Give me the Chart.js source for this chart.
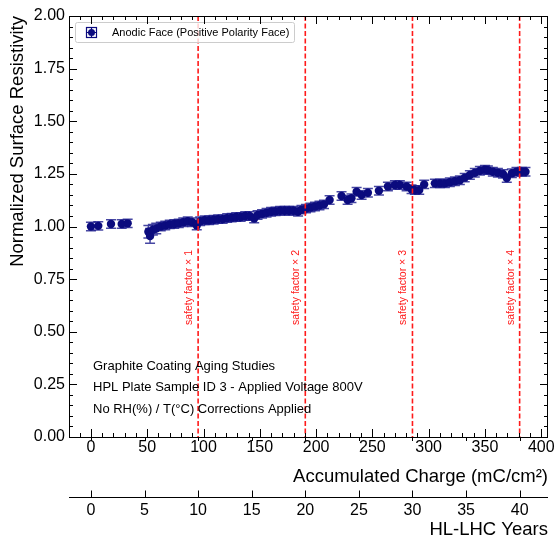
<!DOCTYPE html>
<html>
<head>
<meta charset="utf-8">
<script src="https://cdn.jsdelivr.net/npm/chart.js@4/dist/chart.umd.min.js"></script>
<style>
  html, body { margin: 0; padding: 0; background: #fff; }
</style>
</head>
<body>
<canvas id="cv" width="559" height="541"></canvas>
<script>
// ---- data ----
const charge = [
  0, 6.5, 17.8, 27.3, 32.6,
  51, 52.5, 55, 58, 62, 66, 70, 74, 78, 82, 86, 90, 94, 97,
  101, 105, 109, 113, 117, 121, 125, 129, 133, 137, 141, 145, 148,
  152, 156, 160, 164, 168, 172, 176, 180, 184, 187, 191, 195, 199,
  203, 207, 212, 222.6, 228, 231.4, 236, 240.4, 246, 255.8, 263.8,
  270, 274.4, 280.4, 284.8, 287.7, 291.6, 296,
  305.5, 310, 314.4, 318.8, 323.3, 327.7, 332, 336.6, 341, 345.5,
  350, 352.6, 357, 361.5, 366, 369.4, 373.9, 378, 382.8, 386
];
const resistivity = [
  1.000, 1.003, 1.012, 1.012, 1.015,
  0.975, 0.955, 0.985, 0.990, 1.000, 1.005, 1.010, 1.012, 1.015, 1.020, 1.025, 1.020, 1.005, 1.025,
  1.030, 1.030, 1.032, 1.035, 1.035, 1.040, 1.042, 1.045, 1.045, 1.050, 1.050, 1.038, 1.055,
  1.060, 1.065, 1.070, 1.072, 1.075, 1.075, 1.075, 1.075, 1.070, 1.080, 1.085, 1.090, 1.095,
  1.100, 1.105, 1.126, 1.145, 1.126, 1.134, 1.165, 1.150, 1.160, 1.170, 1.190,
  1.197, 1.197, 1.190, 1.177, 1.173, 1.173, 1.200,
  1.205, 1.205, 1.205, 1.210, 1.215, 1.220, 1.232, 1.245, 1.255, 1.265,
  1.270, 1.268, 1.260, 1.255, 1.250, 1.230, 1.253, 1.260, 1.260, 1.260
];
const resErr = [
  0.02, 0.02, 0.02, 0.02, 0.02,
  0.03, 0.035, 0.025, 0.025, 0.02, 0.02, 0.02, 0.02, 0.02, 0.02, 0.02, 0.02, 0.02, 0.02,
  0.02, 0.02, 0.02, 0.02, 0.02, 0.02, 0.02, 0.02, 0.02, 0.02, 0.02, 0.02, 0.02,
  0.02, 0.02, 0.02, 0.02, 0.02, 0.02, 0.02, 0.02, 0.02, 0.02, 0.02, 0.02, 0.02,
  0.02, 0.02, 0.02, 0.02, 0.02, 0.02, 0.02, 0.02, 0.02, 0.02, 0.02,
  0.02, 0.02, 0.02, 0.02, 0.02, 0.02, 0.02,
  0.02, 0.02, 0.02, 0.02, 0.02, 0.02, 0.02, 0.02, 0.02, 0.02,
  0.02, 0.02, 0.02, 0.02, 0.02, 0.02, 0.02, 0.02, 0.02, 0.02
];

const safetyCharges = [95.2, 190.4, 285.6, 380.8];
const safetyLabels = ['safety factor \u00d7 1', 'safety factor \u00d7 2', 'safety factor \u00d7 3', 'safety factor \u00d7 4'];

const chargeTicks = [0, 50, 100, 150, 200, 250, 300, 350, 400];
const yearTicks = [0, 5, 10, 15, 20, 25, 30, 35, 40];
const resTicks = [0, 0.25, 0.5, 0.75, 1.0, 1.25, 1.5, 1.75, 2.0];
const CHARGE_PER_YEAR = 9.52;

const legendLabel = 'Anodic Face (Positive Polarity Face)';
const notes = [
  'Graphite Coating Aging Studies',
  'HPL Plate Sample ID 3 - Applied Voltage 800V',
  'No RH(%) / T(\u00b0C) Corrections Applied'
];

const FONT = '"Liberation Sans", Arial, Helvetica, sans-serif';
const NAVY = '#0b0b7e';
const X_MIN = -19.5, X_MAX = 406;

// error bars under the markers
const errorBars = {
  id: 'errorBars',
  beforeDatasetsDraw(chart) {
    const {ctx, chartArea: a, scales: {x, y}} = chart;
    ctx.save();
    ctx.beginPath(); ctx.rect(a.left, a.top, a.right - a.left, a.bottom - a.top); ctx.clip();
    ctx.strokeStyle = 'rgba(25,25,140,0.8)';
    ctx.lineWidth = 1.5;
    charge.forEach((c, i) => {
      const px = x.getPixelForValue(c);
      const lo = y.getPixelForValue(resistivity[i] - resErr[i]);
      const hi = y.getPixelForValue(resistivity[i] + resErr[i]);
      ctx.beginPath();
      ctx.moveTo(px, lo); ctx.lineTo(px, hi);
      ctx.moveTo(px - 5, lo); ctx.lineTo(px + 5, lo);
      ctx.moveTo(px - 5, hi); ctx.lineTo(px + 5, hi);
      ctx.stroke();
    });
    ctx.restore();
  }
};

// safety lines, legend box and notes
const decorations = {
  id: 'decorations',
  afterDatasetsDraw(chart) {
    const {ctx, chartArea: a, scales: {x, y}} = chart;
    ctx.save();
    ctx.strokeStyle = '#ff1a1a';
    ctx.lineWidth = 1.6;
    ctx.setLineDash([5, 2.5]);
    safetyCharges.forEach((c, i) => {
      const px = x.getPixelForValue(c);
      ctx.beginPath(); ctx.moveTo(px, a.top); ctx.lineTo(px, a.bottom); ctx.stroke();
      ctx.save();
      ctx.translate(px - 9, 250);
      ctx.rotate(-Math.PI / 2);
      ctx.fillStyle = '#ff1a1a';
      ctx.font = '10.5px ' + FONT;
      ctx.textAlign = 'right';
      ctx.textBaseline = 'middle';
      ctx.fillText(safetyLabels[i], 0, 0);
      ctx.restore();
    });
    ctx.setLineDash([]);

    // legend
    ctx.fillStyle = 'rgba(255,255,255,0.8)';
    ctx.strokeStyle = '#cccccc';
    ctx.lineWidth = 1;
    ctx.beginPath();
    ctx.roundRect(75.5, 22.5, 219, 20, 2);
    ctx.fill(); ctx.stroke();
    ctx.strokeStyle = NAVY; ctx.fillStyle = NAVY;
    ctx.lineWidth = 1.2;
    ctx.strokeRect(86.5, 27.5, 10, 10);
    ctx.beginPath();
    ctx.moveTo(91.5, 27.5); ctx.lineTo(91.5, 37.5);
    ctx.moveTo(86.5, 32.5); ctx.lineTo(96.5, 32.5);
    ctx.stroke();
    ctx.beginPath(); ctx.arc(91.5, 32.5, 3.5, 0, Math.PI * 2); ctx.fill();
    ctx.fillStyle = '#000';
    ctx.font = '11px ' + FONT;
    ctx.textAlign = 'left';
    ctx.textBaseline = 'middle';
    ctx.fillText(legendLabel, 112, 32.5);

    // notes
    ctx.font = '13px ' + FONT;
    notes.forEach((t, i) => ctx.fillText(t, 93, 366 + i * 21.5));
    ctx.restore();
  },
  afterDraw(chart) {
    const {ctx, chartArea: a, scales: {x, y, x2}} = chart;
    ctx.save();
    ctx.strokeStyle = '#000';
    ctx.lineWidth = 1;
    ctx.strokeRect(a.left + 0.5, a.top + 0.5, a.right - a.left - 1, a.bottom - a.top);
    ctx.beginPath();
    // charge axis ticks, bottom and top, inward
    for (let v = -10; v <= 400; v += 10) {
      const px = Math.round(x.getPixelForValue(v)) + 0.5;
      const len = v % 50 === 0 ? 8 : 4;
      ctx.moveTo(px, a.bottom); ctx.lineTo(px, a.bottom - len);
      ctx.moveTo(px, a.top); ctx.lineTo(px, a.top + len);
    }
    // year ticks hanging below the charge axis
    yearTicks.forEach(t => {
      const px = Math.round(x.getPixelForValue(t * CHARGE_PER_YEAR)) + 0.5;
      ctx.moveTo(px, a.bottom); ctx.lineTo(px, a.bottom + 4);
    });
    // y ticks, left and right
    for (let k = 0; k <= 40; k++) {
      const py = Math.round(y.getPixelForValue(k * 0.05)) + 0.5;
      const len = k % 5 === 0 ? 8 : 4;
      ctx.moveTo(a.left, py); ctx.lineTo(a.left + len, py);
      ctx.moveTo(a.right, py); ctx.lineTo(a.right - len, py);
    }
    // second axis (years)
    const yb = Math.round(x2.top) + 0.5;
    ctx.moveTo(a.left, yb); ctx.lineTo(a.right, yb);
    yearTicks.forEach(t => {
      const px = Math.round(x2.getPixelForValue(t)) + 0.5;
      ctx.moveTo(px, yb); ctx.lineTo(px, yb - 7);
    });
    ctx.stroke();
    ctx.restore();
  }
};

const tickFont = {family: FONT, size: 16};
const titleFont = {family: FONT, size: 18.5};

new Chart(document.getElementById('cv'), {
  type: 'scatter',
  data: {
    datasets: [{
      label: legendLabel,
      data: charge.map((c, i) => ({x: c, y: resistivity[i]})),
      backgroundColor: NAVY,
      borderColor: NAVY,
      pointRadius: 4.2,
      pointBorderWidth: 0,
      xAxisID: 'x',
      yAxisID: 'y'
    }]
  },
  options: {
    responsive: false,
    animation: false,
    layout: {padding: {left: 0, top: 16, right: 11, bottom: 0}},
    plugins: {legend: {display: false}, tooltip: {enabled: false}},
    scales: {
      x: {
        type: 'linear', position: 'bottom', min: X_MIN, max: X_MAX,
        afterBuildTicks: s => { s.ticks = chargeTicks.map(v => ({value: v})); },
        afterFit: s => { s.height = 60; },
        grid: {display: false, drawTicks: false},
        border: {display: false},
        ticks: {font: tickFont, color: '#000', padding: 1, maxRotation: 0, autoSkip: false},
        title: {display: true, text: 'Accumulated Charge (mC/cm\u00b2)', align: 'end',
                font: titleFont, color: '#000', padding: {top: 0, bottom: 9}}
      },
      x2: {
        type: 'linear', position: 'bottom',
        min: X_MIN / CHARGE_PER_YEAR, max: X_MAX / CHARGE_PER_YEAR,
        afterBuildTicks: s => { s.ticks = yearTicks.map(v => ({value: v})); },
        afterFit: s => { s.height = 44; },
        grid: {display: false, drawTicks: false},
        border: {display: false},
        ticks: {font: tickFont, color: '#000', padding: 4, maxRotation: 0, autoSkip: false},
        title: {display: true, text: 'HL-LHC Years', align: 'end',
                font: titleFont, color: '#000', padding: {top: 0, bottom: 0}}
      },
      y: {
        type: 'linear', position: 'left', min: 0, max: 2,
        afterBuildTicks: s => { s.ticks = resTicks.map(v => ({value: v})); },
        afterFit: s => { s.width = 69; },
        grid: {display: false, drawTicks: false},
        border: {display: false},
        ticks: {font: tickFont, color: '#000', padding: 4, callback: v => v.toFixed(2)},
        title: {display: true, text: 'Normalized Surface Resistivity', align: 'end',
                font: titleFont, color: '#000', padding: {top: 7, bottom: 0}}
      }
    }
  },
  plugins: [errorBars, decorations]
});
</script>
</body>
</html>
